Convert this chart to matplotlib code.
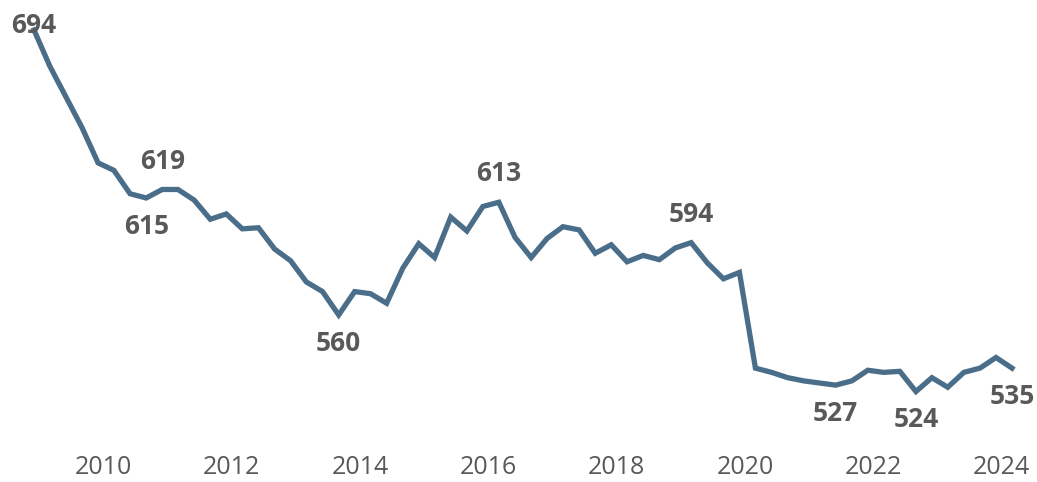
import matplotlib
matplotlib.use("Agg")
import matplotlib.pyplot as plt
import matplotlib.dates as mdates
import pandas as pd

# quarterly series, Dec 2008 .. Mar 2024
dates = pd.date_range("2008-12-01", periods=62, freq="3MS")
values = [694, 677, 662.5, 648, 631.5, 628, 617, 615, 619, 619,
          614, 605, 607.5, 600.5, 601, 591, 585.5, 575.5, 571, 560,
          571, 570, 565.5, 582, 593.5, 587, 606, 599.5, 611, 613,
          596.5, 587, 596, 601.5, 600, 589, 593, 585, 588, 586,
          591.5, 594, 584.5, 577, 580, 535, 533, 530.5, 529, 528,
          527, 529, 534, 533, 533.5, 524, 530.5, 526, 533, 535,
          540, 535]

# which points get a value label, and on which side
label_idx = [0, 7, 8, 19, 29, 41, 50, 55, 61]
label_side = ["on", "below", "above", "below", "above", "above", "below", "below", "below"]

line_color = "#4a6e89"
text_color = "#595959"

fig = plt.figure(figsize=(10.37, 4.82), dpi=100)
ax = fig.add_axes([0, 42 / 482, 1, 440 / 482])

ax.plot(dates, values, color=line_color, lw=3.8, solid_joinstyle="miter", clip_on=False)

offsets = {"above": 20.5, "below": -20.5, "on": 3.5}
for i, side in zip(label_idx, label_side):
    ax.annotate(f"{values[i]:.0f}", (dates[i], values[i]), xytext=(0, offsets[side]),
                textcoords="offset points", ha="center", va="center",
                fontsize=19, fontweight="bold", color=text_color,
                family=["Open Sans", "DejaVu Sans"], annotation_clip=False)

# x range so first/last point sit where they do in the picture
d0 = mdates.date2num(dates[0])
d1 = mdates.date2num(dates[-1])
px = (d1 - d0) / (1012 - 34)
ax.set_xlim(d0 - 34 * px, d0 + (1037 - 34) * px)
ax.set_ylim(501.2, 708.1)

ax.xaxis.set_major_locator(mdates.YearLocator(2))
ax.xaxis.set_major_formatter(mdates.DateFormatter("%Y"))
ax.tick_params(axis="x", length=0, pad=11, labelsize=18, labelcolor=text_color)
for t in ax.get_xticklabels():
    t.set_family(["Open Sans", "DejaVu Sans"])
ax.set_yticks([])
for s in ax.spines.values():
    s.set_visible(False)

fig.savefig("out.png", dpi=100)
